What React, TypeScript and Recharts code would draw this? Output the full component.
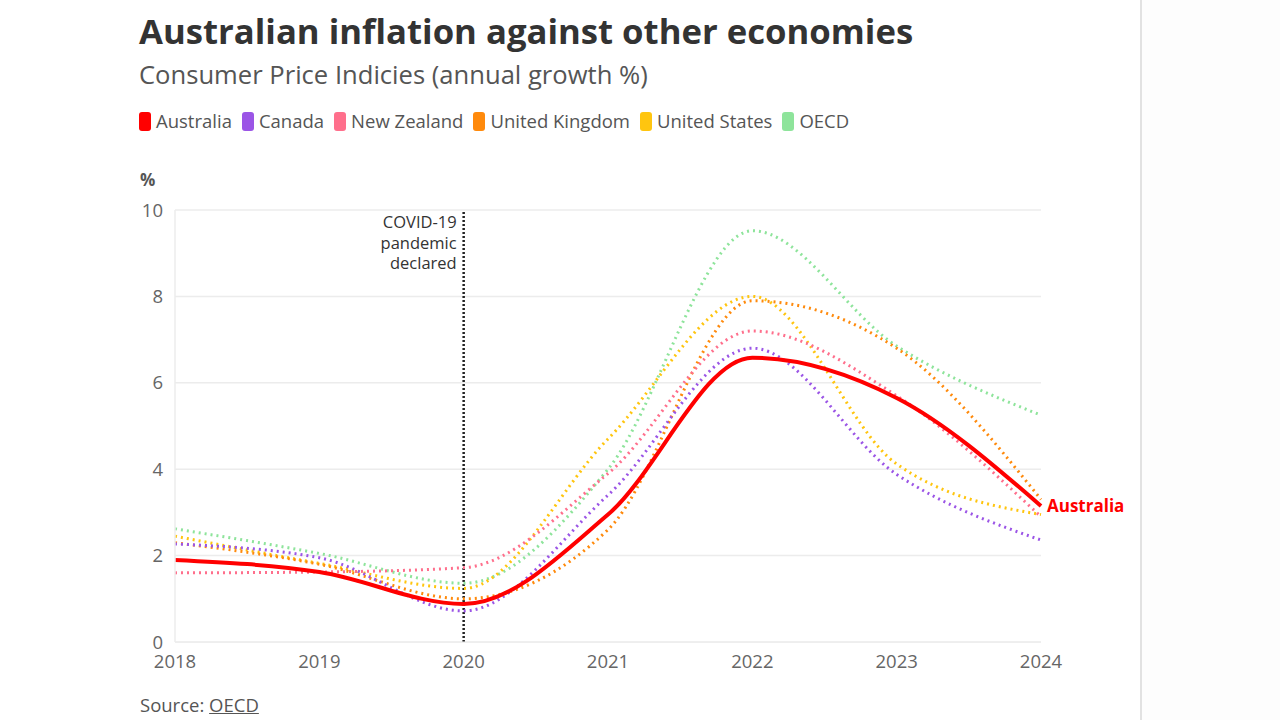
import React from 'react';
import { LineChart, Line, XAxis, YAxis, CartesianGrid, ReferenceLine } from 'recharts';

const years = [2018, 2019, 2020, 2021, 2022, 2023, 2024];
const australia = [1.9, 1.62, 0.88, 2.95, 6.58, 5.65, 3.15];
const canada = [2.27, 1.95, 0.72, 3.4, 6.8, 3.88, 2.36];
const newZealand = [1.6, 1.62, 1.72, 3.9, 7.2, 5.7, 2.9];
const unitedKingdom = [2.3, 1.8, 1.0, 2.6, 7.9, 6.8, 3.3];
const unitedStates = [2.45, 1.82, 1.24, 4.7, 8.0, 4.12, 2.95];
const oecd = [2.62, 2.05, 1.36, 4.0, 9.52, 6.85, 5.25];
const yTicks = [0, 2, 4, 6, 8, 10];

const series = [
  { key: 'australia', name: 'Australia', color: '#ff0000', values: australia },
  { key: 'canada', name: 'Canada', color: '#9b55e6', values: canada },
  { key: 'newZealand', name: 'New Zealand', color: '#ff6f8c', values: newZealand },
  { key: 'unitedKingdom', name: 'United Kingdom', color: '#ff8a0c', values: unitedKingdom },
  { key: 'unitedStates', name: 'United States', color: '#ffc50f', values: unitedStates },
  { key: 'oecd', name: 'OECD', color: '#8ee49b', values: oecd },
];

const data = years.map((year, i) => {
  const row: Record<string, number> = { year };
  series.forEach((s) => {
    row[s.key] = s.values[i];
  });
  return row;
});

const FONT = '"Open Sans", "Noto Sans", sans-serif';

// covid annotation, right aligned against the reference line
const CovidLabel = (props: any) => {
  const { viewBox } = props;
  const x = viewBox.x - 7;
  const y = viewBox.y;
  const lines = ['COVID-19', 'pandemic', 'declared'];
  return (
    <g>
      {lines.map((t, i) => (
        <text key={t} x={x} y={y + 18 + i * 20.5} textAnchor="end" fontSize={16.5} fill="#333" fontFamily={FONT}>
          {t}
        </text>
      ))}
    </g>
  );
};

const EndLabel = (props: any) => {
  const { x, y, index } = props;
  if (index !== years.length - 1) return null;
  return (
    <text x={x + 6} y={y} dy={6} fontSize={17} fontWeight={700} fill="#ff0000" fontFamily={FONT}>
      Australia
    </text>
  );
};

export default function App() {
  return (
    <div style={{ position: 'fixed', top: 0, left: 0, width: 1280, height: 720, background: '#fff', fontFamily: FONT }}>
      <div style={{ position: 'absolute', left: 1140, top: 0, width: 140, height: 720, background: '#fdfdfd', borderLeft: '2px solid #e2e2e2' }} />
      <div style={{ position: 'absolute', left: 139, top: 8, fontSize: 34.7, lineHeight: '46px', fontWeight: 700, color: '#333', whiteSpace: 'nowrap' }}>
        Australian inflation against other economies
      </div>
      <div style={{ position: 'absolute', left: 139, top: 58, fontSize: 25.6, lineHeight: '34px', color: '#555', whiteSpace: 'nowrap' }}>
        Consumer Price Indicies (annual growth %)
      </div>
      <div style={{ position: 'absolute', left: 139, top: 109, display: 'flex', alignItems: 'center', fontSize: 18.5, lineHeight: '24px', color: '#555', whiteSpace: 'nowrap' }}>
        {series.map((s) => (
          <div key={s.key} style={{ display: 'flex', alignItems: 'center', marginRight: 10 }}>
            <span style={{ display: 'inline-block', width: 12, height: 19, borderRadius: 3, background: s.color, marginRight: 5 }} />
            <span>{s.name}</span>
          </div>
        ))}
      </div>
      <div style={{ position: 'absolute', left: 140, top: 168, fontSize: 17, lineHeight: '24px', fontWeight: 700, color: '#555' }}>%</div>

      <div style={{ position: 'absolute', left: 0, top: 0 }}>
        <LineChart width={1140} height={720} data={data} margin={{ top: 210, right: 99, left: 140, bottom: 48 }}>
          <CartesianGrid vertical={false} stroke="#ececec" strokeWidth={1.5} />
          <XAxis
            dataKey="year"
            type="number"
            domain={[2018, 2024]}
            ticks={years}
            height={30}
            tickLine={false}
            axisLine={{ stroke: '#ececec' }}
            tickMargin={7}
            tick={{ fontSize: 18.5, fill: '#666', fontFamily: FONT }}
          />
          <YAxis
            width={35}
            domain={[0, 10]}
            ticks={yTicks}
            tickLine={false}
            axisLine={{ stroke: '#ececec', strokeWidth: 1.5 }}
            tickMargin={6}
            tick={{ fontSize: 18.5, fill: '#666', fontFamily: FONT }}
          />
          <ReferenceLine x={2020} stroke="#222" strokeWidth={2.5} strokeDasharray="2 2" label={<CovidLabel />} />
          {series
            .slice(1)
            .reverse()
            .map((s) => (
              <Line
                key={s.key}
                type="monotone"
                dataKey={s.key}
                stroke={s.color}
                strokeWidth={3}
                strokeDasharray="2 4"
                dot={false}
                activeDot={false}
                isAnimationActive={false}
              />
            ))}
          <Line
            type="monotone"
            dataKey="australia"
            stroke="#ff0000"
            strokeWidth={4}
            dot={false}
            activeDot={false}
            isAnimationActive={false}
            label={<EndLabel />}
          />
        </LineChart>
      </div>

      <div style={{ position: 'absolute', left: 140, top: 693, fontSize: 18.5, lineHeight: '24px', color: '#555' }}>
        Source: <span style={{ textDecoration: 'underline' }}>OECD</span>
      </div>
    </div>
  );
}
